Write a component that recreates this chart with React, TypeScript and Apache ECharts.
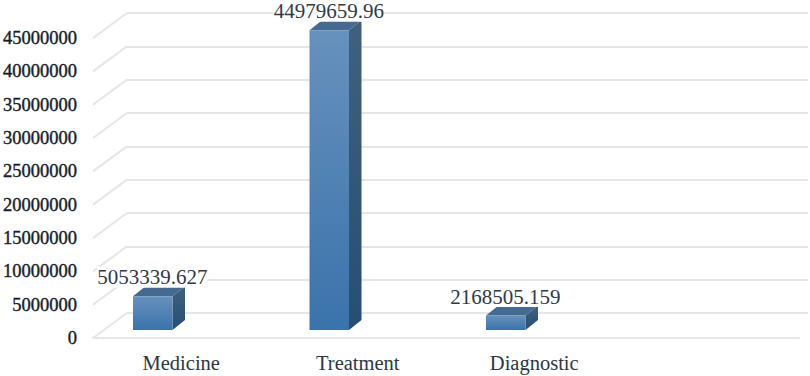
import React, { useEffect, useRef } from "react";
import * as echarts from "echarts";

const categories = ["Medicine", "Treatment", "Diagnostic", ""];
const values = [5053339.627, 44979659.96, 2168505.159];
const wallTicks = [0, 5000000, 10000000, 15000000, 20000000, 25000000, 30000000, 35000000, 40000000, 45000000];

const FONT = "'Liberation Serif', 'Times New Roman', serif";
const GRID_COLOR = "#e4e6e8";

export default function App() {
  const ref = useRef<HTMLDivElement>(null);
  useEffect(() => {
    const chart = echarts.init(ref.current!, null, { renderer: "svg" });
    const barShiftX = -28.5;
    const barShiftY = -8;
    const barW = 39.5;
    const depthX = 12.5;
    const depthY = -10;

    chart.setOption({
      animation: false,
      backgroundColor: "#ffffff",
      tooltip: { show: false },
      grid: [
        { left: 93, top: 38, width: 706, height: 300, outerBoundsMode: "none" },
        { left: 127, top: 13, width: 681, height: 300, outerBoundsMode: "none" },
      ],
      xAxis: [
        {
          type: "category",
          gridIndex: 0,
          data: categories,
          axisLine: { show: true, lineStyle: { color: GRID_COLOR, width: 2 } },
          axisTick: { show: false },
          axisLabel: { fontFamily: FONT, fontSize: 20.5, color: "#2c3644", margin: 14 },
        },
        { type: "category", gridIndex: 1, data: categories, show: false },
      ],
      yAxis: [
        {
          type: "value",
          gridIndex: 0,
          min: 0,
          max: 45000000,
          interval: 5000000,
          axisLine: { show: false },
          axisTick: { show: false },
          splitLine: { show: false },
          axisLabel: {
            fontFamily: FONT,
            fontSize: 18.5,
            color: "#151d2b",
            textBorderColor: "#151d2b",
            textBorderWidth: 0.4,
            margin: 16,
            formatter: (v: number) => String(v),
          },
        },
        {
          type: "value",
          gridIndex: 1,
          min: 0,
          max: 45000000,
          interval: 5000000,
          axisLine: { show: false },
          axisTick: { show: false },
          axisLabel: { show: false },
          splitLine: { show: true, lineStyle: { color: GRID_COLOR, width: 2 } },
        },
      ],
      series: [
        {
          type: "custom",
          xAxisIndex: 0,
          yAxisIndex: 0,
          silent: true,
          z: 1,
          data: wallTicks.map((t) => [0, t]),
          renderItem: (params: any, api: any) => {
            const y = api.coord([0, api.value(1)])[1];
            const x = params.coordSys.x;
            return {
              type: "line",
              shape: { x1: x, y1: y, x2: x + 34, y2: y - 25 },
              style: { stroke: GRID_COLOR, lineWidth: 2, fill: "none" },
            };
          },
        },
        {
          type: "custom",
          xAxisIndex: 0,
          yAxisIndex: 0,
          silent: true,
          z: 3,
          data: values.map((v, i) => [i, v]),
          renderItem: (_params: any, api: any) => {
            const i = api.value(0);
            const v = api.value(1);
            const c = api.coord([i, v]);
            const b = api.coord([i, 0]);
            const x0 = c[0] + barShiftX - barW / 2;
            const x1 = x0 + barW;
            const top = c[1] + barShiftY;
            const bot = b[1] + barShiftY;
            return {
              type: "group",
              children: [
                {
                  type: "polygon",
                  shape: { points: [[x0, top], [x0 + depthX, top + depthY], [x1 + depthX, top + depthY], [x1, top]] },
                  style: { fill: "#46698f" },
                },
                {
                  type: "polygon",
                  shape: { points: [[x1, top], [x1 + depthX, top + depthY], [x1 + depthX, bot + depthY], [x1, bot]] },
                  style: {
                    fill: {
                      type: "linear", x: 0, y: 0, x2: 0, y2: 1,
                      colorStops: [
                        { offset: 0, color: "#41607f" },
                        { offset: 1, color: "#264e74" },
                      ],
                    },
                  },
                },
                {
                  type: "rect",
                  shape: { x: x0, y: top, width: barW, height: bot - top },
                  style: {
                    fill: {
                      type: "linear", x: 0, y: 0, x2: 0, y2: 1,
                      colorStops: [
                        { offset: 0, color: "#6791bd" },
                        { offset: 1, color: "#3a73ab" },
                      ],
                    },
                  },
                },
                {
                  type: "text",
                  x: x0 + barW / 2 - 0.5,
                  y: top - 19,
                  style: {
                    text: String(v),
                    fontFamily: FONT,
                    fontSize: 21,
                    fill: "#2f3a48",
                    align: "center",
                    verticalAlign: "middle",
                    backgroundColor: "#ffffff",
                  },
                },
              ],
            };
          },
        },
      ],
    });
    return () => chart.dispose();
  }, []);
  return <div ref={ref} style={{ position: "absolute", left: 0, top: 0, width: 810, height: 376 }} />;
}
